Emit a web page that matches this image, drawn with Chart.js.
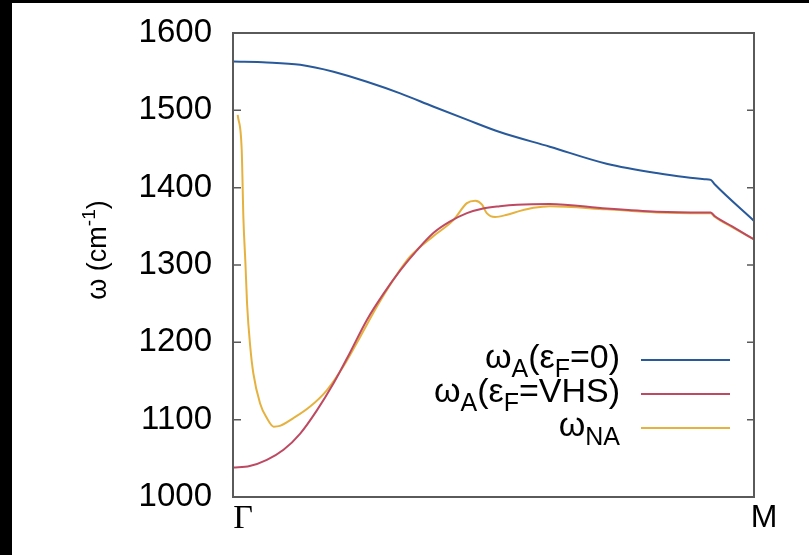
<!DOCTYPE html>
<html><head><meta charset="utf-8">
<script src="https://cdn.jsdelivr.net/npm/chart.js@4"></script>
<style>
html,body{margin:0;padding:0;background:#000;width:809px;height:555px;overflow:hidden}
#wrap{position:absolute;left:12px;top:3px;width:797px;height:552px;background:#fff}
canvas{display:block}
</style></head><body><div id="wrap"><canvas id="c" width="797" height="552"></canvas></div>
<script>
// ---- data (x = fractional position along Γ–M path) ----
const xTickPositions = [0, 1];
const xTickLabels = ['Γ', 'M'];
const yTickValues = [1000, 1100, 1200, 1300, 1400, 1500, 1600];

const blueK = [0, 0.065, 0.129, 0.193, 0.257, 0.321, 0.384, 0.449, 0.512, 0.608, 0.717, 0.813, 0.905, 0.917, 0.925, 1.0];
const blueW = [1563, 1562, 1559, 1550, 1537, 1522, 1505, 1488, 1472, 1453, 1431, 1419, 1411, 1410, 1404, 1357];

const redK = [0, 0.032, 0.065, 0.097, 0.129, 0.161, 0.193, 0.224, 0.257, 0.289, 0.321, 0.353, 0.384, 0.416, 0.449, 0.480, 0.512, 0.545, 0.608, 0.717, 0.813, 0.905, 0.917, 0.925, 0.958, 1.0];
const redW = [1038, 1040, 1048, 1061, 1082, 1112, 1147, 1186, 1229, 1263, 1293, 1319, 1341, 1356, 1367, 1373, 1376, 1378, 1379, 1373, 1369, 1368, 1368, 1363, 1350, 1333];

const orangeK = [0.009, 0.0167, 0.020, 0.024, 0.027, 0.033, 0.039, 0.052, 0.065, 0.078, 0.090, 0.116, 0.148, 0.180, 0.212, 0.244, 0.276, 0.308, 0.340, 0.384, 0.423, 0.449, 0.465, 0.478, 0.487, 0.503, 0.526, 0.551, 0.577, 0.608, 0.717, 0.813, 0.905, 0.917, 0.925, 0.958, 1.0];
const orangeW = [1494, 1449, 1360, 1300, 1250, 1195, 1160, 1121, 1102, 1091, 1092, 1102, 1117, 1138, 1169, 1207, 1246, 1281, 1311, 1337, 1358, 1380, 1383, 1378, 1367, 1362, 1365, 1370, 1374, 1376, 1372, 1368, 1367, 1367, 1362, 1349, 1333];

const seriesNames = ['ωA(εF=0)', 'ωA(εF=VHS)', 'ωNA'];
// legend text pieces: even index = normal, odd index = subscript
const legendPieces = [['ω', 'A', '(ε', 'F', '=0)'], ['ω', 'A', '(ε', 'F', '=VHS)'], ['ω', 'NA']];
const seriesColors = ['#28599b', '#bd4a62', '#e6b23f'];

const pts = (k, w) => k.map((v, i) => ({x: v, y: w[i]}));

const FONT = '"Liberation Sans", Arial, sans-serif';

const decor = {
  id: 'decor',
  afterDatasetsDraw(chart) {
    const {ctx, chartArea: a, scales} = chart;
    ctx.save();
    // frame
    ctx.strokeStyle = '#5a5a5a';
    ctx.lineWidth = 2;
    ctx.strokeRect(a.left, a.top, a.right - a.left, a.bottom - a.top);
    // inward y ticks on both sides
    ctx.lineWidth = 1.5;
    yTickValues.forEach(v => {
      const y = scales.y.getPixelForValue(v);
      ctx.beginPath();
      ctx.moveTo(a.left, y); ctx.lineTo(a.left + 8, y);
      ctx.moveTo(a.right, y); ctx.lineTo(a.right - 7, y);
      ctx.stroke();
    });
    // legend
    const mainF = '34px ' + FONT, subF = '25px ' + FONT;
    const textRight = 608, lineX0 = 629, lineX1 = 718;
    const lineYs = [357, 391, 425];
    legendPieces.forEach((parts, i) => {
      const ly = lineYs[i];
      let w = 0;
      parts.forEach((p, j) => { ctx.font = j % 2 ? subF : mainF; w += ctx.measureText(p).width; });
      let x = textRight - w;
      ctx.fillStyle = '#000';
      ctx.textAlign = 'left';
      ctx.textBaseline = 'alphabetic';
      parts.forEach((p, j) => {
        ctx.font = j % 2 ? subF : mainF;
        ctx.fillText(p, x, ly + 8 + (j % 2 ? 9 : 0));
        x += ctx.measureText(p).width;
      });
      ctx.strokeStyle = seriesColors[i];
      ctx.lineWidth = 2;
      ctx.beginPath(); ctx.moveTo(lineX0, ly); ctx.lineTo(lineX1, ly); ctx.stroke();
    });
    // y axis title
    const tF = '27px ' + FONT, tS = '19px ' + FONT;
    ctx.fillStyle = '#000';
    ctx.translate(85, 247);
    ctx.rotate(-Math.PI / 2);
    const tparts = [['ω (cm', 0], ['-1', 1], [')', 0]];
    let tw = 0;
    tparts.forEach(([p, s]) => { ctx.font = s ? tS : tF; tw += ctx.measureText(p).width; });
    let tx = -tw / 2;
    tparts.forEach(([p, s]) => {
      ctx.font = s ? tS : tF;
      ctx.fillText(p, tx, 9 - (s ? 11 : 0));
      tx += ctx.measureText(p).width;
    });
    ctx.restore();
  }
};

new Chart(document.getElementById('c'), {
  type: 'line',
  data: {
    datasets: [
      {label: seriesNames[0], data: pts(blueK, blueW), borderColor: seriesColors[0]},
      {label: seriesNames[1], data: pts(redK, redW), borderColor: seriesColors[1]},
      {label: seriesNames[2], data: pts(orangeK, orangeW), borderColor: seriesColors[2]}
    ]
  },
  options: {
    responsive: false,
    animation: false,
    devicePixelRatio: 1,
    layout: {padding: {top: 30, right: 55, left: 0, bottom: 0}},
    elements: {
      point: {radius: 0},
      line: {borderWidth: 2, cubicInterpolationMode: 'monotone', fill: false}
    },
    plugins: {legend: {display: false}, tooltip: {enabled: false}},
    scales: {
      x: {
        type: 'linear', min: 0, max: 1,
        grid: {display: false, drawTicks: false},
        border: {display: false},
        afterBuildTicks: s => { s.ticks = xTickPositions.map(v => ({value: v})); },
        afterFit: s => { s.height = 58; s.paddingLeft = 0; s.paddingRight = 0; },
        ticks: {
          padding: 2,
          labelOffset: 10,
          color: '#000',
          maxRotation: 0,
          autoSkip: false,
          callback: (v, i) => xTickLabels[i],
          font: c => c.index === 0 ? {family: '"Liberation Serif", serif', size: 34} : {family: FONT, size: 32}
        }
      },
      y: {
        type: 'linear', min: 1000, max: 1600,
        grid: {display: false, drawTicks: false},
        border: {display: false},
        afterBuildTicks: s => { s.ticks = yTickValues.map(v => ({value: v})); },
        afterFit: s => { s.width = 221; s.paddingTop = 0; s.paddingBottom = 0; },
        ticks: {padding: 21, color: '#000', font: {family: FONT, size: 33}, callback: v => String(v)}
      }
    }
  },
  plugins: [decor]
});
</script></body></html>
